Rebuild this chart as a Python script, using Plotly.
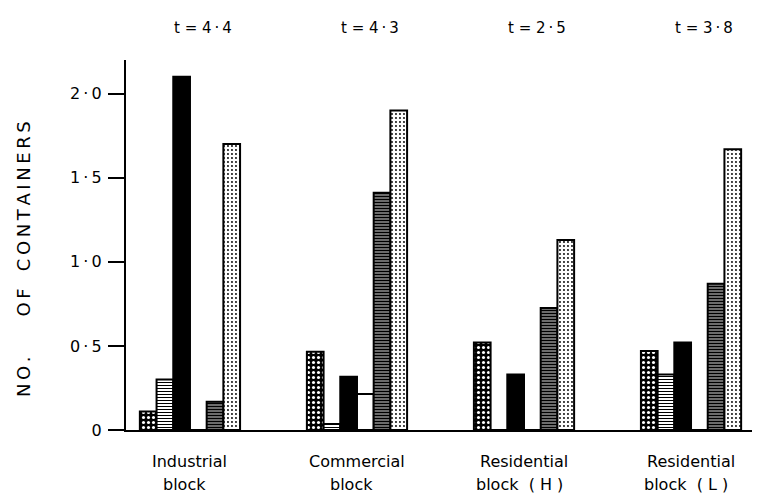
import plotly.graph_objects as go

categories = ["Industrial block", "Commercial block", "Residential block (H)", "Residential block (L)"]
label_line1 = ["Industrial", "Commercial", "Residential", "Residential"]
label_line2 = ["block", "block", "block\u00a0 (\u00a0H\u00a0)", "block\u00a0 (\u00a0L\u00a0)"]
t_labels = ["t = 4\u2009·\u20094", "t = 4\u2009·\u20093", "t = 2\u2009·\u20095", "t = 3\u2009·\u20098"]

dense_dots = [0.11, 0.466, 0.52, 0.47]
light_lines = [0.30, 0.035, 0.0, 0.33]
solid_black = [2.10, 0.317, 0.33, 0.52]
empty_bar = [0.0, 0.214, 0.0, 0.0]
dense_lines = [0.168, 1.41, 0.725, 0.87]
light_dots = [1.70, 1.90, 1.13, 1.67]

tick_vals = [0, 0.5, 1.0, 1.5, 2.0]
tick_text = ["0", "0\u2009·\u20095", "1\u2009·\u20090", "1\u2009·\u20095", "2\u2009·\u20090"]

y_title = ("\u2009".join("NO.") + "\u00a0" * 7 + "\u2009".join("OF")
           + "\u00a0" * 3 + "\u2009".join("CONTAINERS"))

FONT = "DejaVu Sans"
xs = list(range(len(categories)))

series = [
    (dense_dots, dict(shape=".", fgcolor="white", bgcolor="black", size=5, solidity=0.3)),
    (light_lines, dict(shape="-", fgcolor="black", bgcolor="white", size=3, solidity=0.35)),
    (solid_black, None),
    (empty_bar, None),
    (dense_lines, dict(shape="-", fgcolor="black", bgcolor="white", size=3, solidity=0.72)),
    (light_dots, dict(shape=".", fgcolor="black", bgcolor="white", size=4, solidity=0.18)),
]

fig = go.Figure()
for i, (vals, pat) in enumerate(series):
    marker = dict(line=dict(color="black", width=2))
    if pat is None:
        marker["color"] = "black" if i == 2 else "white"
    else:
        marker["color"] = "white"
        marker["pattern"] = dict(fillmode="replace", **pat)
    fig.add_trace(go.Bar(x=xs, y=vals, marker=marker, showlegend=False, hoverinfo="skip"))

txt = dict(family=FONT, size=16, color="black", weight=500)
annotations = []
for i in xs:
    annotations.append(dict(x=i, y=1, xref="x", yref="paper", yshift=32, xshift=13, yanchor="middle",
                            text=t_labels[i], showarrow=False, font=dict(txt, size=15)))
    annotations.append(dict(x=i, y=0, xref="x", yref="paper", yshift=-31, yanchor="middle",
                            text=label_line1[i], showarrow=False, font=txt))
    annotations.append(dict(x=i, y=0, xref="x", yref="paper", yshift=-54, xshift=-5, yanchor="middle",
                            text=label_line2[i], showarrow=False, font=txt))
annotations.append(dict(x=0, y=0.462, xref="paper", yref="paper", xshift=-103, textangle=-90,
                        xanchor="center", yanchor="middle", text=y_title, showarrow=False,
                        font=dict(txt, size=18)))

fig.update_layout(
    width=760, height=495,
    margin=dict(l=118, r=8, t=52, b=73),
    paper_bgcolor="white", plot_bgcolor="white",
    barmode="group", bargap=0.4, bargroupgap=0,
    font=dict(family=FONT, size=15, color="black"),
    annotations=annotations,
    xaxis=dict(range=[-0.383, 3.413], showticklabels=False, ticks="", showgrid=False,
               zeroline=False, showline=True, linecolor="black", linewidth=2),
    yaxis=dict(range=[0, 2.2], tickvals=tick_vals, ticktext=tick_text, ticks="outside",
               ticklen=16, tickwidth=2, tickcolor="black", showgrid=False, zeroline=False,
               showline=True, linecolor="black", linewidth=2, ticklabelstandoff=3,
               tickfont=dict(family=FONT, size=16, color="black", weight=500)),
)

fig.write_html("out.html")
